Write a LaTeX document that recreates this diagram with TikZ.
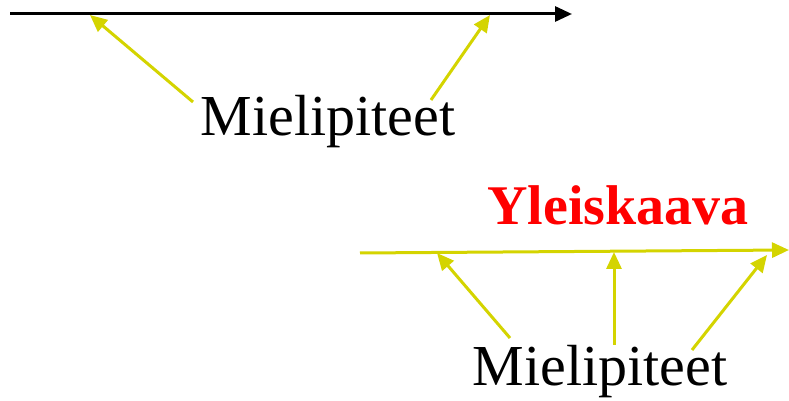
\documentclass[tikz,border=0pt]{standalone}
\usepackage{fontspec}
\setmainfont{Liberation Serif}
\usetikzlibrary{positioning,arrows.meta}
\definecolor{keltainen}{RGB}{212,212,0}
\definecolor{punainen}{RGB}{255,0,0}
\tikzset{kolmio/.tip={Triangle[length=8.5pt,width=7.5pt]},
  teksti/.style={font=\fontsize{29}{34}\selectfont, inner sep=0pt},
  otsikko/.style={teksti, font=\fontsize{28}{33}\selectfont\bfseries, text=punainen},
  mielipide/.style={-kolmio, draw=keltainen, line width=1.5pt},
  aika/.style={-kolmio, line width=1.5pt}}

\begin{document}
\begin{tikzpicture}[x=0.5pt, y=-0.5pt]
			\useasboundingbox (0,0) rectangle (789,401);
			% ylempi aikajana
			\coordinate (A0) at (10,14);
			\coordinate (A1) at (572,14);
			\coordinate (A2) at (90,15);
			\coordinate (A3) at (490,15);
			\node (M1) [teksti] at (328,122) {Mielipiteet};
			\coordinate (M1a) at (193,102);
			\coordinate (M1b) at (431,100);
			\draw[aika] (A0) -- (A1);
			\draw[mielipide] (M1a) -- (A2);
			\draw[mielipide] (M1b) -- (A3);
			% alempi aikajana
			\node (Y) [otsikko] at (618,205) {Yleiskaava};
			\coordinate (B0) at (360,253);
			\coordinate (B1) at (789,250);
			\coordinate (B2) at (437,253);
			\coordinate (B3) at (614,252);
			\coordinate (B4) at (767,255);
			\node (M2) [teksti] at (600,372) {Mielipiteet};
			\coordinate (M2a) at (510,338);
			\coordinate (M2b) at (614,345);
			\coordinate (M2c) at (692,350);
			\draw[mielipide] (B0) -- (B1);
			\draw[mielipide] (M2a) -- (B2);
			\draw[mielipide] (M2b) -- (B3);
			\draw[mielipide] (M2c) -- (B4);
		\end{tikzpicture}
\end{document}
